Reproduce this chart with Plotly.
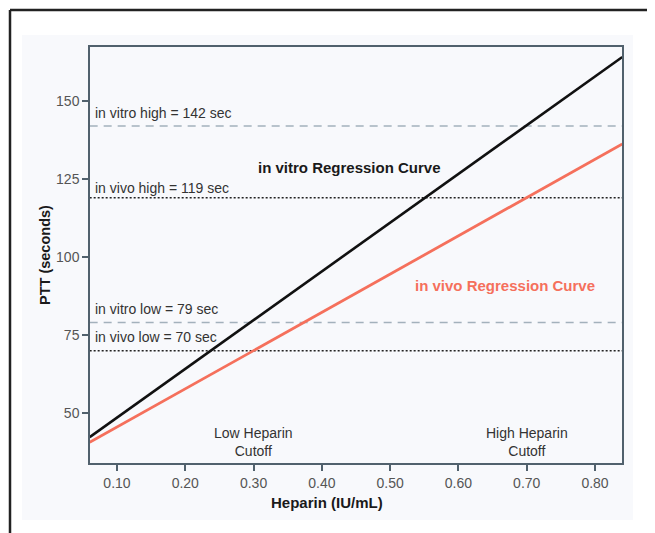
import plotly.graph_objects as go

# Data
heparin_ends = [0.06, 0.84]
in_vitro_ptt = [42.3, 164.1]
in_vivo_ptt = [40.6, 136.2]

ref_values = [142, 119, 79, 70]
ref_labels = ["in vitro high = 142 sec", "in vivo high = 119 sec",
              "in vitro low = 79 sec", "in vivo low = 70 sec"]
ref_kind = ["vitro", "vivo", "vitro", "vivo"]

x_ticks = [0.10, 0.20, 0.30, 0.40, 0.50, 0.60, 0.70, 0.80]
y_ticks = [50, 75, 100, 125, 150]

cutoff_x = [0.30, 0.70]
cutoff_labels = ["Low Heparin<br>Cutoff", "High Heparin<br>Cutoff"]

FONT = "Arial, Liberation Sans, sans-serif"
RED = "#f5705c"
AXIS = "#51616d"

# page offset of the figure (browser body margin)
OFF = 8
PL, PR, PT, PB = 90, 622, 47, 463  # plot area in page pixels
W, H = 655 - OFF, 533 - OFF


def px(p):
    return (p - PL) / (PR - PL)


def py(p):
    return (PB - p) / (PB - PT)


fig = go.Figure()

# Reference lines
for v, k in zip(ref_values, ref_kind):
    if k == "vitro":
        fig.add_trace(go.Scatter(x=heparin_ends, y=[v, v], mode="lines",
                                 line=dict(color="#a3b1bc", width=1.6, dash="8px,6px"),
                                 hoverinfo="skip", showlegend=False))
    else:
        fig.add_trace(go.Scatter(x=heparin_ends, y=[v, v], mode="lines",
                                 line=dict(color="#222222", width=1.5, dash="2px,2px"),
                                 hoverinfo="skip", showlegend=False))

# Regression lines
fig.add_trace(go.Scatter(x=heparin_ends, y=in_vivo_ptt, mode="lines",
                         line=dict(color=RED, width=2.8), showlegend=False))
fig.add_trace(go.Scatter(x=heparin_ends, y=in_vitro_ptt, mode="lines",
                         line=dict(color="#111111", width=2.6), showlegend=False))

annotations = []
label_y = [146.3, 122.2, 83.2, 74.3]
for lbl, ly in zip(ref_labels, label_y):
    annotations.append(dict(x=0.0655, y=ly, xref="x", yref="y", text=lbl,
                            showarrow=False, xanchor="left", yanchor="middle",
                            font=dict(family=FONT, size=14, color="#333333")))

annotations.append(dict(x=0.441, y=128.8, xref="x", yref="y",
                        text="<b>in vitro Regression Curve</b>", showarrow=False,
                        xanchor="center", yanchor="middle",
                        font=dict(family=FONT, size=15, color="#1a1a1a")))
annotations.append(dict(x=0.668, y=91.0, xref="x", yref="y",
                        text="<b>in vivo Regression Curve</b>", showarrow=False,
                        xanchor="center", yanchor="middle",
                        font=dict(family=FONT, size=15, color=RED)))

for cx, cl in zip(cutoff_x, cutoff_labels):
    annotations.append(dict(x=cx, y=40.7, xref="x", yref="y", text=cl,
                            showarrow=False, xanchor="center", yanchor="middle",
                            font=dict(family=FONT, size=14, color="#333333")))

# Axis titles
annotations.append(dict(x=px(327), y=py(502), xref="paper", yref="paper",
                        text="<b>Heparin (IU/mL)</b>", showarrow=False,
                        xanchor="center", yanchor="middle",
                        font=dict(family=FONT, size=15, color="#1a1a1a")))
annotations.append(dict(x=px(45), y=py(255), xref="paper", yref="paper",
                        text="<b>PTT (seconds)</b>", showarrow=False, textangle=-90,
                        xanchor="center", yanchor="middle",
                        font=dict(family=FONT, size=14.5, color="#1a1a1a")))

shapes = [
    # light panel
    dict(type="rect", xref="paper", yref="paper",
         x0=px(22), x1=px(633), y0=py(520), y1=py(35),
         fillcolor="#f8f9fc", line=dict(width=0), layer="below"),
    # outer frame (top and left)
    dict(type="line", xref="paper", yref="paper",
         x0=px(10), x1=px(700), y0=py(10), y1=py(10),
         line=dict(color="#222222", width=2.5)),
    dict(type="line", xref="paper", yref="paper",
         x0=px(10), x1=px(10), y0=py(10), y1=py(560),
         line=dict(color="#222222", width=2.5)),
]

fig.update_layout(
    width=W, height=H,
    margin=dict(l=PL - OFF, r=W - (PR - OFF), t=PT - OFF, b=H - (PB - OFF)),
    paper_bgcolor="white",
    plot_bgcolor="#fcfcfe",
    showlegend=False,
    annotations=annotations,
    shapes=shapes,
    font=dict(family=FONT, size=14, color="#555555"),
)
fig.update_xaxes(range=[0.0605, 0.8395], tickvals=x_ticks,
                 ticktext=[f"{v:.2f}" for v in x_ticks],
                 showgrid=False, zeroline=False, showline=True, linecolor=AXIS,
                 linewidth=1.5, mirror=True, ticks="outside", ticklen=6,
                 tickcolor=AXIS, tickwidth=1.5,
                 tickfont=dict(family=FONT, size=14, color="#555555"))
fig.update_yaxes(range=[34.0, 167.3], tickvals=y_ticks,
                 showgrid=False, zeroline=False, showline=True, linecolor=AXIS,
                 linewidth=1.5, mirror=True, ticks="outside", ticklen=6,
                 tickcolor=AXIS, tickwidth=1.5,
                 tickfont=dict(family=FONT, size=14, color="#555555"))

fig.write_html("out.html")
